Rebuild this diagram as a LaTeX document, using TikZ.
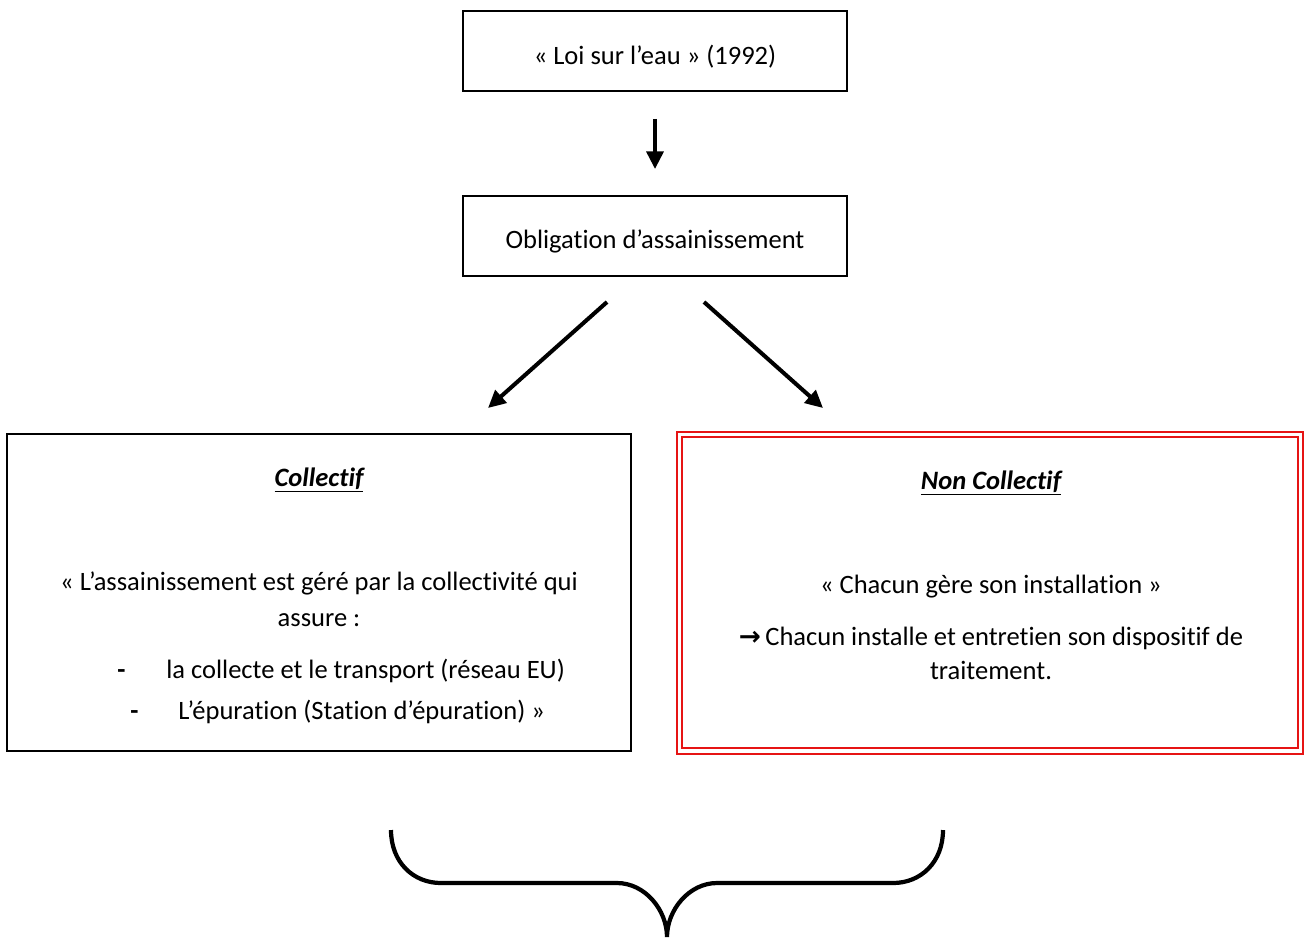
\documentclass[tikz,border=0pt]{standalone}
\usepackage{fontspec}
\setmainfont{Carlito}[RawFeature={-liga;-clig;-calt;-dlig;-rlig}]
\newfontfamily\dejavu{DejaVu Sans}
\usetikzlibrary{arrows.meta}
\definecolor{boxred}{RGB}{230,20,20}
\begin{document}
\begin{tikzpicture}[x=0.02cm,y=-0.02cm,
  every node/.style={font=\fontsize{15.1pt}{18pt}\selectfont},
  boxed/.style={draw=black,line width=1.1pt,inner sep=0pt},
  redbox/.style={draw=boxred,line width=1.3pt,inner sep=0pt},
  txt/.style={anchor=base,inner sep=0pt},
  bigarrow/.style={line width=2.3pt,-{Triangle[length=10pt,width=9.5pt]}},
  bracepath/.style={line width=2.4pt}
]
\useasboundingbox (0,0) rectangle (1304,938);

% top boxes
\node[boxed,minimum width=7.68cm,minimum height=1.6cm] (loi) at (655,51) {};
\node[txt] (loit) at (655,64) {« Loi sur l’eau » (1992)};
\node[boxed,minimum width=7.68cm,minimum height=1.6cm] (obl) at (655,236) {};
\node[txt] (oblt) at (655,248) {Obligat\kern0pt ion d’assainissement};

% collectif box
\node[boxed,minimum width=12.48cm,minimum height=6.34cm] (col) at (319,592.5) {};
\node[txt] (colt) at (319,486) {\textbf{\textit{\underline{Collect\kern0pt if}}}};
\node[txt] (col1) at (319,590) {« L’assainissement est géré par la collectivité qui};
\node[txt] (col2) at (319,626) {assure :};
\node[txt,anchor=base west] (d1) at (117,678) {\textbf{-}};
\node[txt,anchor=base west] (col3) at (166,678) {la collecte et le transport (réseau EU)};
\node[txt,anchor=base west] (d2) at (130,719) {\textbf{-}};
\node[txt,anchor=base west] (col4) at (178,719) {L’épuration (Station d’épuration) »};

% non collectif box (double red border)
\node[redbox,minimum width=12.52cm,minimum height=6.44cm] (nc) at (990,593) {};
\node[redbox,minimum width=12.32cm,minimum height=6.22cm] (nci) at (990,592.5) {};
\node[txt] (nct) at (991,489) {\textbf{\textit{\underline{Non Collect\kern0pt if}}}};
\node[txt] (nc1) at (991,593) {« Chacun gère son installation »};
\node[txt] (nc2) at (991,645) {{\dejavu\bfseries\fontsize{15pt}{15pt}\selectfont →}\,Chacun installe et entret\kern0pt ien son disposit\kern0pt if de};
\node[txt] (nc3) at (991,679) {traitement.};

% arrows
\draw[bigarrow,shorten <=0.54cm,shorten >=0.52cm] (loi.south) -- (obl.north);
\coordinate (l1) at (607,302);
\coordinate (l2) at (488,408);
\coordinate (r1) at (704,302);
\coordinate (r2) at (823,408);
\draw[bigarrow] (l1) -- (l2);
\draw[bigarrow] (r1) -- (r2);

% brace
\draw[bracepath] (391,830) .. controls (391,862) and (413,883) .. (441,883)
  -- (617,883) .. controls (645,883) and (667,910) .. (667,937)
  .. controls (667,910) and (689,883) .. (717,883)
  -- (893,883) .. controls (921,883) and (943,862) .. (943,830);
\end{tikzpicture}
\end{document}
